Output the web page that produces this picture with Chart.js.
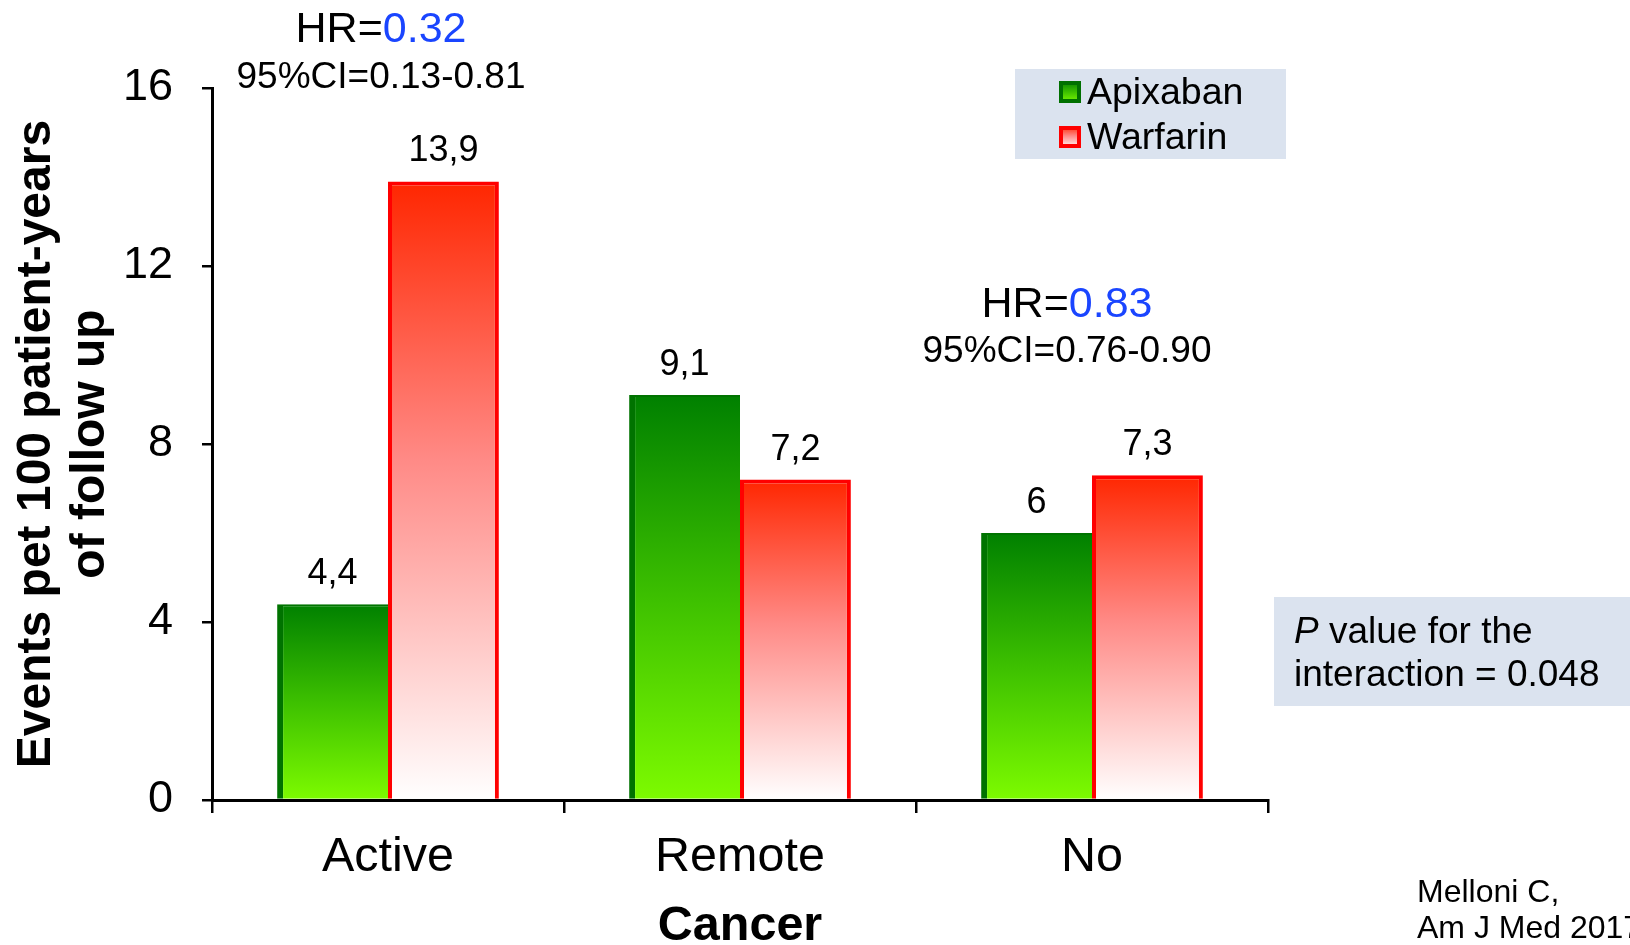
<!DOCTYPE html>
<html>
<head>
<meta charset="utf-8">
<script src="https://cdn.jsdelivr.net/npm/chart.js@4.4.1/dist/chart.umd.min.js"></script>
<style>
  body { margin: 0; background: #fff; }
  #wrap { width: 1630px; height: 945px; }
</style>
</head>
<body>
<div id="wrap"><canvas id="chart" width="1630" height="945"></canvas></div>
<script>
// --- DATA ---
const categories = ['Active', 'Remote', 'No'];
const seriesNames = ['Apixaban', 'Warfarin'];
const apixaban = [4.4, 9.1, 6];
const warfarin = [13.9, 7.2, 7.3];
const yTicks = [0, 4, 8, 12, 16];
const hrValues = ['0.32', '0.83'];
const ciTexts = ['95%CI=0.13-0.81', '95%CI=0.76-0.90'];
const pValueLines = ['value for the', 'interaction = 0.048'];
const citation = ['Melloni C,', 'Am J Med 2017'];

const FONT = '"Liberation Sans", Arial, sans-serif';
const greenStops = [[0, '#008000'], [0.5, '#3dc000'], [1, '#7dfb00']];
const redStops = [[0, '#ff2600'], [0.45, '#ff8a86'], [1, '#ffffff']];

// vertical gradient spanning a single bar, top to baseline
function barGradient(ctx, stops) {
    const chart = ctx.chart;
    if (!chart.chartArea || ctx.type !== 'data') return stops[0][1];
    const y = chart.scales.y;
    const top = y.getPixelForValue(ctx.raw);
    const base = y.getPixelForValue(0);
    const g = chart.ctx.createLinearGradient(0, top, 0, base);
    stops.forEach(([o, c]) => g.addColorStop(o, c));
    return g;
}

// value labels above bars, decimal comma
const valueLabels = {
    id: 'valueLabels',
    afterDatasetsDraw(chart) {
        const ctx = chart.ctx;
        ctx.save();
        ctx.font = `36px ${FONT}`;
        ctx.fillStyle = '#000';
        ctx.textAlign = 'center';
        ctx.textBaseline = 'middle';
        chart.data.datasets.forEach((ds, i) => {
            chart.getDatasetMeta(i).data.forEach((bar, j) => {
                ctx.fillText(String(ds.data[j]).replace('.', ','), bar.x, bar.y - 30);
            });
        });
        ctx.restore();
    }
};

// HR / CI notes, legend, p-value box and citation
const extras = {
    id: 'extras',
    afterDraw(chart) {
        const ctx = chart.ctx;
        ctx.save();
        ctx.textBaseline = 'middle';

        // hazard ratios
        const hrPos = [[381, 30, 78], [1067, 305, 352]];
        hrPos.forEach(([cx, yHr, yCi], i) => {
            ctx.font = `43px ${FONT}`;
            const w1 = ctx.measureText('HR=').width;
            const w2 = ctx.measureText(hrValues[i]).width;
            const x0 = cx - (w1 + w2) / 2;
            ctx.textAlign = 'left';
            ctx.fillStyle = '#000';
            ctx.fillText('HR=', x0, yHr);
            ctx.fillStyle = '#1a45ff';
            ctx.fillText(hrValues[i], x0 + w1, yHr);
            ctx.font = `37px ${FONT}`;
            ctx.fillStyle = '#000';
            ctx.textAlign = 'center';
            ctx.fillText(ciTexts[i], cx, yCi);
        });

        // legend
        ctx.fillStyle = '#dbe3ef';
        ctx.fillRect(1015, 69, 271, 90);
        ctx.textAlign = 'left';
        ctx.font = `37.5px ${FONT}`;
        chart.data.datasets.forEach((ds, i) => {
            const yc = 92 + i * 45;
            const sx = 1059, sy = yc - 11, s = 22;
            const g = ctx.createLinearGradient(0, sy, 0, sy + s);
            (i === 0 ? greenStops : redStops).forEach(([o, c]) => g.addColorStop(o, c));
            ctx.fillStyle = i === 0 ? '#007000' : '#ff0000';
            ctx.fillRect(sx, sy, s, s);
            ctx.fillStyle = g;
            ctx.fillRect(sx + 4, sy + 4, s - 8, s - 8);
            ctx.fillStyle = '#000';
            ctx.fillText(ds.label, 1087, yc + 2);
        });

        // p value box
        ctx.fillStyle = '#dbe3ef';
        ctx.fillRect(1274, 597, 356, 109);
        ctx.fillStyle = '#000';
        ctx.font = `italic 37px ${FONT}`;
        ctx.fillText('P', 1294, 633);
        const pw = ctx.measureText('P ').width;
        ctx.font = `37px ${FONT}`;
        ctx.fillText(pValueLines[0], 1294 + pw, 633);
        ctx.fillText(pValueLines[1], 1294, 676);

        // citation
        ctx.font = `32px ${FONT}`;
        ctx.fillText(citation[0], 1417, 893);
        ctx.fillText(citation[1], 1417, 929);
        ctx.restore();
    }
};

const chart = new Chart(document.getElementById('chart'), {
    type: 'bar',
    data: {
        labels: categories,
        datasets: [
            {
                label: seriesNames[0],
                data: apixaban,
                backgroundColor: c => barGradient(c, greenStops),
                borderColor: '#007300',
                borderWidth: { left: 6, top: 2, right: 0, bottom: 0 },
                borderSkipped: false
            },
            {
                label: seriesNames[1],
                data: warfarin,
                backgroundColor: c => barGradient(c, redStops),
                borderColor: '#ff0000',
                borderWidth: 4,
                borderSkipped: 'start'
            }
        ]
    },
    options: {
        responsive: false,
        animation: false,
        categoryPercentage: 0.63,
        barPercentage: 1.0,
        layout: { padding: { top: 88, right: 362, left: 0, bottom: 0 } },
        plugins: { legend: { display: false }, tooltip: { enabled: false } },
        scales: {
            x: {
                afterFit: s => { s.height = 145; },
                grid: { drawOnChartArea: false, offset: true, tickLength: 13, color: '#000', lineWidth: 2.5 },
                border: { color: '#000', width: 3 },
                ticks: { color: '#000', font: { family: FONT, size: 48.5 }, padding: 16 },
                title: {
                    display: true, text: 'Cancer', color: '#000',
                    font: { family: FONT, size: 48.5, weight: 'bold', lineHeight: 0.75 },
                    padding: { top: 0, bottom: 0 }
                }
            },
            y: {
                min: 0, max: 16,
                afterFit: s => { s.width = 212; },
                afterBuildTicks: s => { s.ticks = yTicks.map(v => ({ value: v })); },
                grid: { drawOnChartArea: false, tickLength: 10, color: '#000', lineWidth: 2.5 },
                border: { color: '#000', width: 3 },
                ticks: { color: '#000', font: { family: FONT, size: 45 }, padding: 29 },
                title: {
                    display: true,
                    text: ['Events pet 100 patient-years', 'of follow up'],
                    color: '#000',
                    font: { family: FONT, size: 48, weight: 'bold', lineHeight: 1.125 },
                    padding: { top: 10, bottom: 0 }
                }
            }
        }
    },
    plugins: [valueLabels, extras]
});
</script>
</body>
</html>
